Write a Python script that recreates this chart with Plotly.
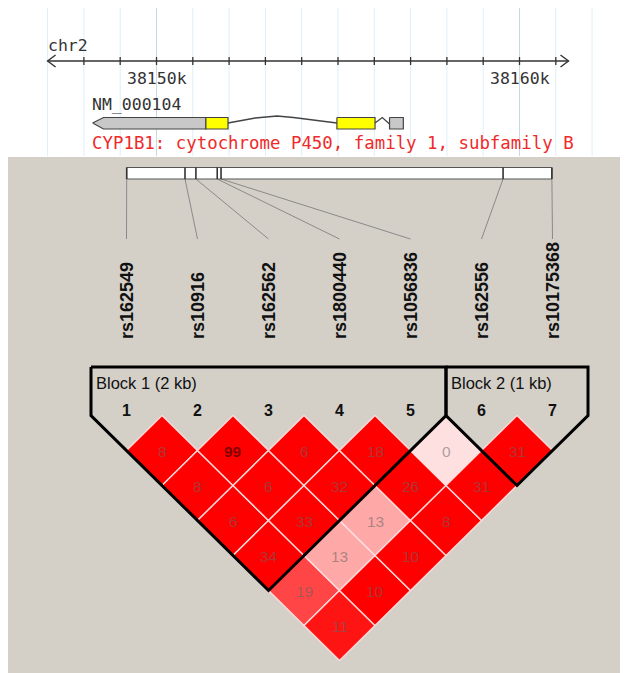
import plotly.graph_objects as go

# ---------------- data ----------------
chrom = "chr2"
axis_start_kb = 38147.0
axis_end_kb = 38161.35
tick_kb = list(range(38148, 38162))
grid_kb = list(range(38147, 38163))
label_kb = [38150, 38160]
label_text = ["38150k", "38160k"]

gene_id = "NM_000104"
gene_desc = "CYP1B1: cytochrome P450, family 1, subfamily B"
utr_left_kb = [38148.24, 38151.36]
cds_exons_kb = [[38151.36, 38151.97], [38154.97, 38156.02]]
utr_right_kb = [38156.42, 38156.80]

snps = ["rs162549", "rs10916", "rs162562", "rs1800440", "rs1056836", "rs162556", "rs10175368"]
snp_kb = [0.00, 1.23, 1.46, 1.91, 1.99, 7.94, 8.97]

# LD values (upper triangle, row i = marker i with markers i+1..7)
ld_vals = [
    [8, 8, 6, 34, 19, 11],
    [99, 6, 33, 13, 10],
    [6, 32, 13, 10],
    [18, 26, 8],
    [0, 31],
    [31],
]
dprime = [
    [1.0, 1.0, 1.0, 1.0, 0.69, 0.91],
    [1.0, 1.0, 1.0, 0.25, 1.0],
    [1.0, 1.0, 0.25, 1.0],
    [1.0, 1.0, 1.0],
    [0.0, 1.0],
    [1.0],
]
block_names = ["Block 1 (2 kb)", "Block 2 (1 kb)"]
block_first = [0, 5]
block_last = [4, 6]

# ---------------- layout constants ----------------
W, H = 628, 673
OFF = 8                       # page body margin
PX0, PX1 = OFF, W             # window pixels covered by the figure
PY0, PY1 = OFF, H
GEN_X0_PX, GEN_PX_PER_KB = 156.5, 36.3       # 38150 kb at 156.5 px
LD_X0_PX, LD_PX_PER_MARKER = 126.5, 71.0
BAR_X0_PX, BAR_PX_PER_KB = 126.7, 47.4
Y0, HV = 415.5, 35.0

gen_range = [38150 + (PX0 - GEN_X0_PX) / GEN_PX_PER_KB, 38150 + (PX1 - GEN_X0_PX) / GEN_PX_PER_KB]
ld_range = [(PX0 - LD_X0_PX) / LD_PX_PER_MARKER, (PX1 - LD_X0_PX) / LD_PX_PER_MARKER]
bar_range = [(PX0 - BAR_X0_PX) / BAR_PX_PER_KB, (PX1 - BAR_X0_PX) / BAR_PX_PER_KB]

def bar_to_ld(kb):
    px = BAR_X0_PX + kb * BAR_PX_PER_KB
    return (px - LD_X0_PX) / LD_PX_PER_MARKER

fig = go.Figure()
shapes = []
ann = []

# gray panel
shapes.append(dict(type="rect", xref="x", yref="y", x0=8, x1=621, y0=157, y1=673,
                   fillcolor="#d4d0c8", line=dict(width=0), layer="below"))

# ---- genome track (x2) ----
for g in grid_kb:
    dark = g in label_kb
    shapes.append(dict(type="line", xref="x2", yref="y", x0=g, x1=g, y0=5, y1=156,
                       line=dict(color="#c9d9e0" if dark else "#dcf0f8", width=1), layer="below"))

def gline(xs, ys, color="#333333", width=1.3, fill=None, fillcolor=None):
    fig.add_trace(go.Scatter(x=xs, y=ys, xaxis="x2", yaxis="y", mode="lines",
                             line=dict(color=color, width=width), fill=fill,
                             fillcolor=fillcolor, hoverinfo="skip", showlegend=False))

ay = 61
gline([axis_start_kb, axis_end_kb], [ay, ay], width=1.4)
ah = 0.22
gline([axis_start_kb + ah, axis_start_kb, axis_start_kb + ah], [ay - 6, ay, ay + 6], width=1.4)
gline([axis_end_kb - ah, axis_end_kb, axis_end_kb - ah], [ay - 6, ay, ay + 6], width=1.4)
for t in tick_kb:
    gline([t, t], [ay - 4, ay + 4], width=1.3)

mono = "DejaVu Sans Mono"
for k, txt in zip(label_kb, label_text):
    ann.append(dict(x=k, y=78, xref="x2", yref="y", text=txt, showarrow=False,
                    xanchor="center", yanchor="middle",
                    font=dict(family=mono, size=16.5, color="#333333")))
ann.append(dict(x=axis_start_kb, y=45, xref="x2", yref="y", text=chrom, showarrow=False,
                xanchor="left", yanchor="middle", xshift=-2,
                font=dict(family=mono, size=16.5, color="#333333")))
ann.append(dict(x=utr_left_kb[0], y=104, xref="x2", yref="y", text=gene_id, showarrow=False,
                xanchor="left", yanchor="middle", xshift=-3,
                font=dict(family=mono, size=16.5, color="#333333")))
ann.append(dict(x=utr_left_kb[0], y=143, xref="x2", yref="y", text=gene_desc, showarrow=False,
                xanchor="left", yanchor="middle", xshift=-3,
                font=dict(family=mono, size=17.4, color="#f02a2a")))

gy0, gy1, gym = 117.5, 129, 123
tip = utr_left_kb[0]
gline([tip, tip + 0.3, utr_left_kb[1], utr_left_kb[1], tip + 0.3, tip],
      [gym, gy0, gy0, gy1, gy1, gym], color="#444444", width=1.2, fill="toself", fillcolor="#c8c8c8")
for a, b in cds_exons_kb:
    gline([a, b, b, a, a], [gy0, gy0, gy1, gy1, gy0], color="#444444", width=1.2,
          fill="toself", fillcolor="#ffff00")
i1a, i1b = cds_exons_kb[0][1], cds_exons_kb[1][0]
span = i1b - i1a
gline([i1a, i1a + 0.25 * span, i1a + 0.45 * span, i1a + 0.6 * span, i1b],
      [gym, 118, 116, 117.5, gym], color="#444444", width=1.3)
c0, c1 = cds_exons_kb[1][1], utr_right_kb[0]
gline([c0, (c0 + c1) / 2, c1], [gym, 117.5, gym + 1], color="#444444", width=1.3)
a, b = utr_right_kb
gline([a, b, b, a, a], [gy0, gy0, gy1, gy1, gy0], color="#444444", width=1.2,
      fill="toself", fillcolor="#c8c8c8")

# ---- SNP position bar (x4) ----
shapes.append(dict(type="rect", xref="x4", yref="y", x0=min(snp_kb), x1=max(snp_kb),
                   y0=167.5, y1=179, fillcolor="white", line=dict(color="#555555", width=1)))
for s in snp_kb:
    shapes.append(dict(type="line", xref="x4", yref="y", x0=s, x1=s, y0=167.5, y1=179,
                       line=dict(color="#333333", width=1.6)))

# connectors (x3 = marker index axis)
for k, s in enumerate(snp_kb):
    fig.add_trace(go.Scatter(x=[bar_to_ld(s), k], y=[179, 239], xaxis="x3", yaxis="y",
                             mode="lines", line=dict(color="#8a8a8a", width=1),
                             hoverinfo="skip", showlegend=False))

for k, name in enumerate(snps):
    ann.append(dict(x=k, y=341, xref="x3", yref="y", text="<b>%s</b>" % name, showarrow=False,
                    textangle=-90, xanchor="center", yanchor="bottom",
                    font=dict(family="Liberation Sans", size=18, color="#111111")))
    ann.append(dict(x=k, y=410, xref="x3", yref="y", text="<b>%d</b>" % (k + 1), showarrow=False,
                    xanchor="center", yanchor="middle",
                    font=dict(family="Liberation Sans", size=16, color="#111111")))

# ---- LD diamonds ----
for i, row in enumerate(ld_vals):
    for n, v in enumerate(row):
        j = i + 1 + n
        d = dprime[i][n]
        g = round(224 * (1 - d))
        col = "rgb(255,%d,%d)" % (g, g)
        cx = (i + j) / 2
        cy = Y0 + HV * (j - i)
        fig.add_trace(go.Scatter(x=[cx, cx + 0.5, cx, cx - 0.5, cx],
                                 y=[cy - HV, cy, cy + HV, cy, cy - HV],
                                 xaxis="x3", yaxis="y", mode="lines", fill="toself",
                                 fillcolor=col, line=dict(color="rgba(255,225,225,0.9)", width=1.5),
                                 hoverinfo="skip", showlegend=False))
        dark = v >= 90
        ann.append(dict(x=cx, y=cy + 1, xref="x3", yref="y", text=("<b>%d</b>" % v) if dark else str(v),
                        showarrow=False, xanchor="center", yanchor="middle",
                        font=dict(family="Liberation Sans", size=15.5,
                                  color="rgba(110,0,0,0.85)" if dark else "rgba(100,100,100,0.55)")))

# ---- blocks ----
for name, a, b in zip(block_names, block_first, block_last):
    bot = Y0 + HV * (b - a + 1)
    fig.add_trace(go.Scatter(x=[a - 0.5, b + 0.5, b + 0.5, (a + b) / 2, a - 0.5, a - 0.5],
                             y=[367, 367, Y0, bot, Y0, 367], xaxis="x3", yaxis="y",
                             mode="lines", line=dict(color="#000000", width=3),
                             hoverinfo="skip", showlegend=False))
    ann.append(dict(x=a - 0.5, y=383, xref="x3", yref="y", text=name, showarrow=False,
                    xanchor="left", yanchor="middle", xshift=3,
                    font=dict(family="Liberation Sans", size=16.5, color="#111111")))

ax_common = dict(visible=False, showgrid=False, zeroline=False, fixedrange=True)
fig.update_layout(
    width=PX1 - PX0, height=PY1 - PY0, margin=dict(l=0, r=0, t=0, b=0),
    paper_bgcolor="white", plot_bgcolor="rgba(0,0,0,0)",
    xaxis=dict(range=[PX0, PX1], domain=[0, 1], anchor="y", **ax_common),
    xaxis2=dict(range=gen_range, overlaying="x", anchor="y", **ax_common),
    xaxis3=dict(range=ld_range, overlaying="x", anchor="y", **ax_common),
    xaxis4=dict(range=bar_range, overlaying="x", anchor="y", **ax_common),
    yaxis=dict(range=[PY1, PY0], domain=[0, 1], anchor="x", **ax_common),
    shapes=shapes, annotations=ann, showlegend=False,
)
fig.add_trace(go.Scatter(x=[PX0], y=[PY0], mode="markers", marker=dict(opacity=0),
                         hoverinfo="skip", showlegend=False))
fig.write_html("out.html")
